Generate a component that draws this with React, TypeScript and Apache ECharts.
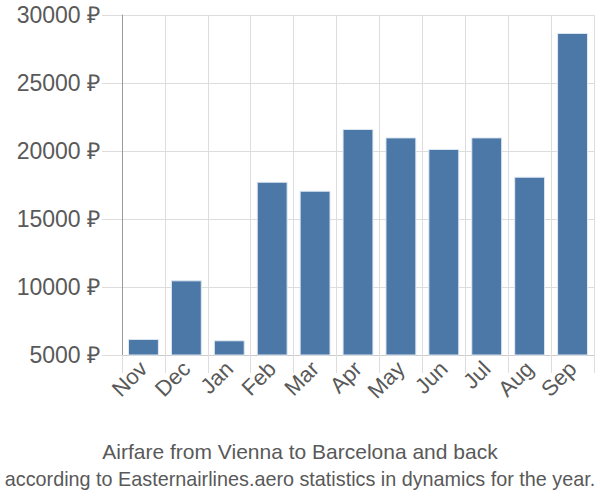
import React, { useEffect, useRef } from "react";
import * as echarts from "echarts";

const months = ["Nov", "Dec", "Jan", "Feb", "Mar", "Apr", "May", "Jun", "Jul", "Aug", "Sep"];
const prices = [6180, 10490, 6080, 17740, 17080, 21620, 21000, 20150, 21000, 18110, 28680];
const yTicks = { min: 5000, max: 30000, interval: 5000 };
const titleText = "Airfare from Vienna to Barcelona and back";
const subtitleText = "according to Easternairlines.aero statistics in dynamics for the year.";

export default function App() {
  const ref = useRef<HTMLDivElement>(null);
  useEffect(() => {
    document.body.style.margin = "0";
    const chart = echarts.init(ref.current!, null, { renderer: "svg" });
    chart.setOption({
      animation: false,
      textStyle: { fontFamily: "Liberation Sans, Arial, sans-serif" },
      title: [
        {
          text: titleText,
          left: "center",
          top: 436,
          textStyle: { fontSize: 21, fontWeight: "normal", color: "#595959", fontFamily: "Liberation Sans" },
        },
        {
          text: subtitleText,
          left: "center",
          top: 464,
          textStyle: { fontSize: 19.8, fontWeight: "normal", color: "#595959", fontFamily: "Liberation Sans" },
        },
      ],
      grid: { left: 122, right: 6, top: 15, bottom: 145, containLabel: false },
      xAxis: {
        type: "category",
        data: months,
        boundaryGap: true,
        axisLine: { show: true, lineStyle: { color: "#cccccc", width: 1 } },
        axisTick: { show: true, length: 18, alignWithLabel: false, lineStyle: { color: "#dddddd" } },
        splitLine: { show: true, lineStyle: { color: "#dddddd", width: 1 } },
        axisLabel: {
          rotate: 45,
          interval: 0,
          margin: 10,
          fontSize: 22,
          color: "#595959",
          fontFamily: "Liberation Sans",
        },
      },
      yAxis: {
        type: "value",
        min: yTicks.min,
        max: yTicks.max,
        interval: yTicks.interval,
        axisLine: { show: true, lineStyle: { color: "#999999", width: 1 } },
        axisTick: { show: true, length: 20, lineStyle: { color: "#dddddd" } },
        splitLine: { show: true, lineStyle: { color: "#dddddd", width: 1 } },
        axisLabel: {
          margin: 22,
          fontSize: 23,
          color: "#595959",
          fontFamily: "Liberation Sans",
          formatter: (v: number) => `${v} ₽`,
        },
      },
      series: [
        {
          type: "bar",
          data: prices,
          barCategoryGap: "28%",
          itemStyle: { color: "#4c78a8", borderColor: "#dfe8f2", borderWidth: 1 },
        },
      ],
    });
    return () => chart.dispose();
  }, []);
  return <div ref={ref} style={{ width: 600, height: 500 }} />;
}
